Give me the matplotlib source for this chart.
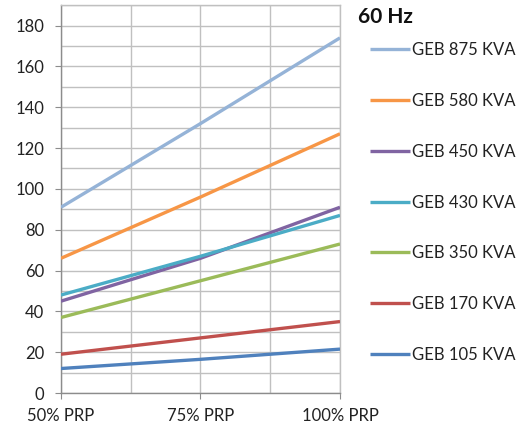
import matplotlib
matplotlib.use("Agg")
import matplotlib.pyplot as plt
from matplotlib.ticker import MultipleLocator

plt.rcParams["font.family"] = ["Lato", "DejaVu Sans"]

# ── 数据 ─────────────────────────────────────────────
categories = ["50% PRP", "75% PRP", "100% PRP"]
series_names = ["GEB 875 KVA", "GEB 580 KVA", "GEB 450 KVA", "GEB 430 KVA",
                "GEB 350 KVA", "GEB 170 KVA", "GEB 105 KVA"]
geb_875 = [91, 132, 174]
geb_580 = [66, 96, 127]
geb_450 = [45, 66, 91]
geb_430 = [48, 67, 87]
geb_350 = [37, 55, 73]
geb_170 = [19, 27, 35]
geb_105 = [12, 16.5, 21.5]
series_values = [geb_875, geb_580, geb_450, geb_430, geb_350, geb_170, geb_105]
colors = ["#95B3D7", "#F79646", "#8064A2", "#4BACC6",
          "#9BBB59", "#C0504D", "#4F81BD"]

# ── 画图 ─────────────────────────────────────────────
fig = plt.figure(figsize=(5.23, 4.29), dpi=100)
ax = fig.add_axes([0.1166, 0.0839, 0.5335, 0.904])

x = list(range(len(categories)))
handles = []
for name, vals, c in zip(series_names, series_values, colors):
    h, = ax.plot(x, vals, color=c, linewidth=2.4, label=name,
                 solid_capstyle="butt", zorder=3)
    handles.append(h)

ax.set_xlim(0, 2)
ax.set_ylim(0, 190)
ax.set_xticks(x)
ax.set_xticklabels(categories)
ax.xaxis.set_minor_locator(MultipleLocator(0.5))
ax.yaxis.set_minor_locator(MultipleLocator(10))
ax.set_yticks([0, 20, 40, 60, 80, 100, 120, 140, 160, 180])

ax.grid(True, which="both", color="#C0C0C0", linewidth=1.0, zorder=0)
ax.set_axisbelow(True)
for sp in ax.spines.values():
    sp.set_color("#C0C0C0")
    sp.set_linewidth(1.0)
ax.spines["left"].set_color("#8C8C8C")
ax.spines["bottom"].set_color("#8C8C8C")

ax.tick_params(axis="both", which="major", direction="out", length=4,
               color="#8C8C8C", labelsize=12, labelcolor="#222222")
ax.tick_params(axis="both", which="minor", length=0)
ax.tick_params(axis="x", pad=7)
ax.tick_params(axis="y", pad=8)

fig.text(358 / 523, 1 - 17 / 429, "60 Hz", fontsize=15, fontweight="bold",
         ha="left", va="center", color="#111111")

leg = fig.legend(handles=handles, loc="upper left",
                 bbox_to_anchor=(370 / 523, 1 - 42 / 429), frameon=False,
                 fontsize=12, handlelength=2.4, handletextpad=0.12,
                 labelspacing=2.09, borderpad=0, borderaxespad=0)
for t in leg.get_texts():
    t.set_color("#222222")

fig.savefig("out.png", dpi=100)
